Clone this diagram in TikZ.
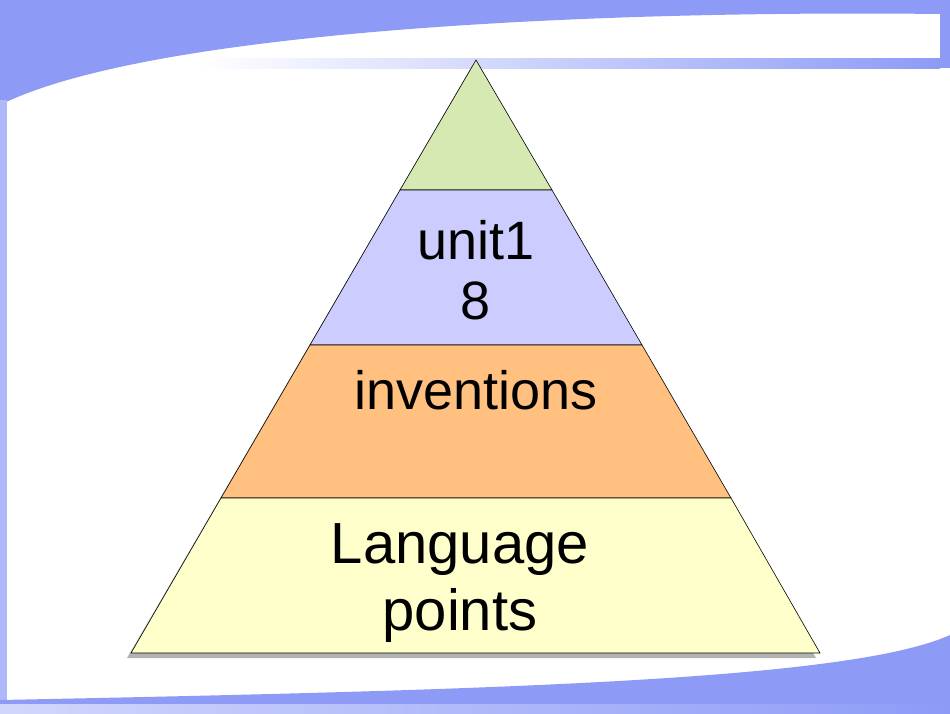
\documentclass[tikz,border=0pt]{standalone}
\usepackage{fontspec}
\setmainfont{Liberation Sans}
\begin{document}
\begin{tikzpicture}[x=1pt,y=-1pt,
  layer/.style={draw=black,line width=0.6pt},
  lbl/.style={font=\fontsize{54}{60}\selectfont,align=center,text=black}]
\useasboundingbox (0,0) rectangle (950,713);
\definecolor{bgblue}{HTML}{8D9BF7}
\fill[white] (0,0) rectangle (950,713);
% top band
\fill[bgblue] (0,0) -- (950,0) -- (950,60) -- (940,60) -- (940,14)
  .. controls (600,10) and (150,30) .. (0,105) -- cycle;
\fill[left color=white,right color=bgblue] (200,58) rectangle (940,68);
\fill[bgblue] (940,0) rectangle (950,68);
% left strip
\fill[bgblue!70] (0,100) rectangle (7,713);
% bottom
\fill[bgblue] (950,635) .. controls (850,680) and (500,690) .. (0,700) -- (0,713) -- (950,713) -- cycle;
\fill[left color=bgblue!40,right color=bgblue] (0,704) rectangle (950,713);
% pyramid shadow
\fill[gray!60] (127,658) -- (472,66) -- (816,658) -- cycle;
\coordinate (apex) at (476,60);
\fill[layer,fill={rgb,255:red,215;green,233;blue,178}] (apex) -- (552,190) -- (400,190) -- cycle;
\fill[layer,fill={rgb,255:red,204;green,204;blue,255}] (400,190) -- (552,190) -- (642,345) -- (310,345) -- cycle;
\fill[layer,fill={rgb,255:red,255;green,192;blue,128}] (310,345) -- (642,345) -- (731,498) -- (221,498) -- cycle;
\fill[layer,fill={rgb,255:red,255;green,255;blue,204}] (221,498) -- (731,498) -- (820,653) -- (131,653) -- cycle;
\node[lbl] (t1) at (476,270) {unit1\\8};
\node[lbl] (t2) at (476,390) {inventions};
\node[lbl,font=\fontsize{58}{67}\selectfont] (t3) at (460,583) {Language\\points};
\end{tikzpicture}
\end{document}
